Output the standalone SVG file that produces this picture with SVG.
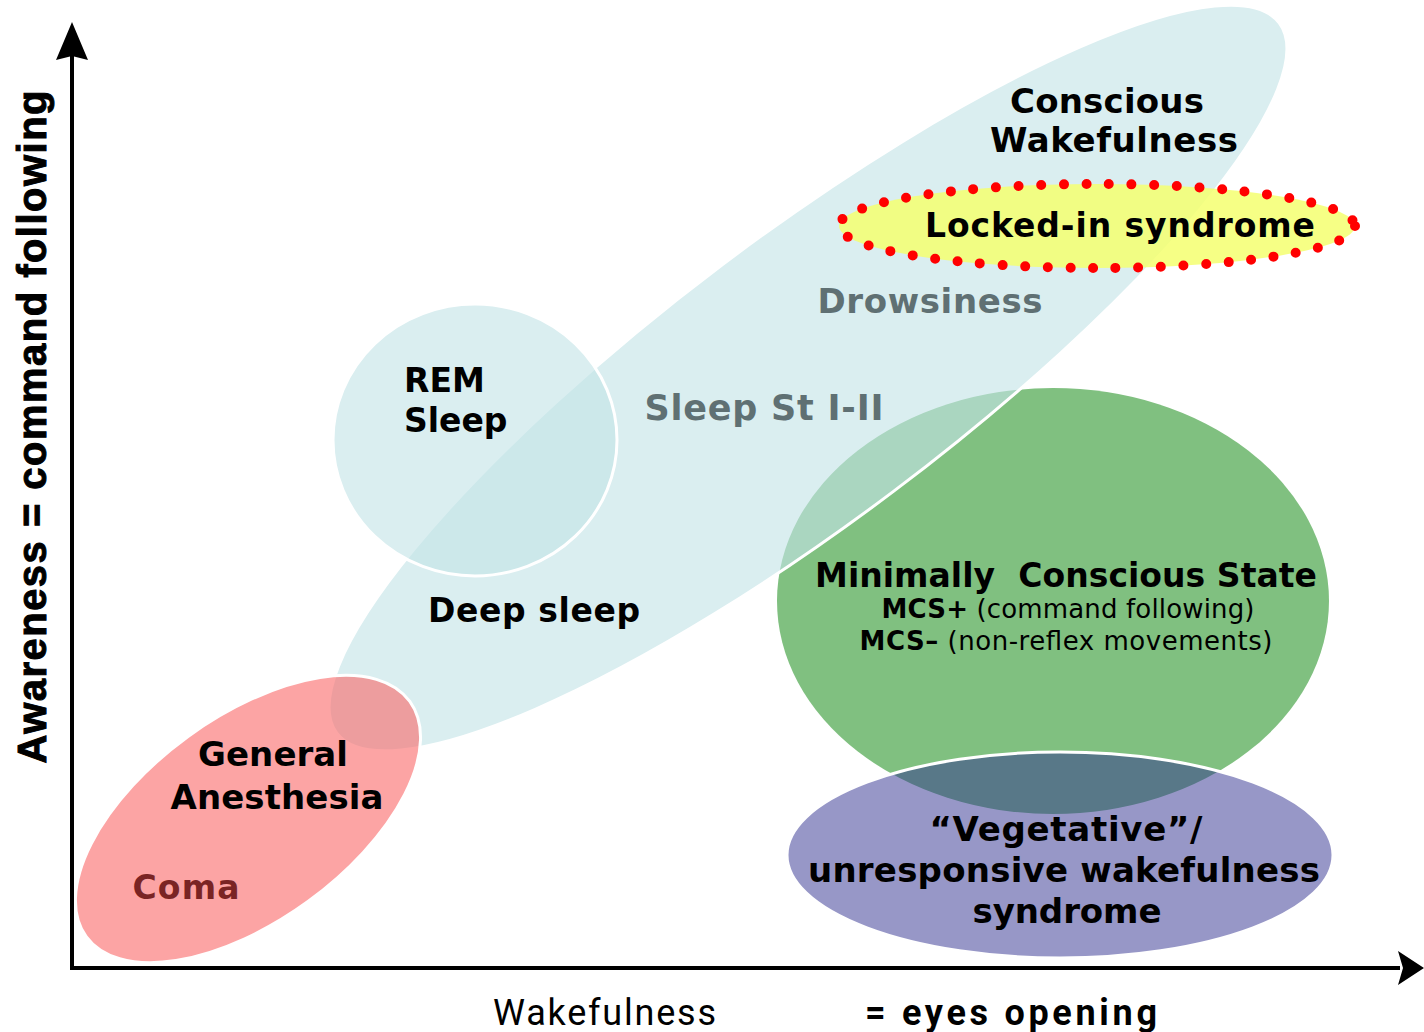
<svg xmlns="http://www.w3.org/2000/svg" width="1424" height="1032" viewBox="0 0 1424 1032">
<style>
.lbl{font-family:"DejaVu Sans","Verdana",sans-serif;font-weight:bold;fill:#000}
.gray{fill:#5f7073}
.sub{font-family:"DejaVu Sans","Verdana",sans-serif;font-size:26px;fill:#000}
</style>
<rect width="1424" height="1032" fill="#fff"/>
<g id="mcs">
<ellipse cx="1053" cy="601" rx="276" ry="213" fill="#80c080"/>
</g>
<g id="sleep">
<ellipse cx="808" cy="378" rx="590" ry="142" transform="rotate(-37 808 378)" fill="#c3e4e7" fill-opacity="0.62" stroke="#fff" stroke-width="3"/>
</g>
<g id="rem">
<ellipse cx="475" cy="440" rx="142" ry="136" fill="#c3e4e7" fill-opacity="0.62" stroke="#fff" stroke-width="3"/>
</g>
<g id="anesthesia">
<ellipse cx="248" cy="819" rx="200" ry="102" transform="rotate(-36 248 819)" fill="#fa6868" fill-opacity="0.6" stroke="#fff" stroke-width="3"/>
</g>
<g id="vs">
<ellipse cx="1060" cy="855" rx="273" ry="103" fill="#2f2f90" fill-opacity="0.5" stroke="#fff" stroke-width="3"/>
</g>
<g id="lis">
<ellipse cx="1097" cy="226" rx="258" ry="42" fill="#f5ff70" fill-opacity="0.85" stroke="#f00" stroke-width="10" stroke-linecap="round" stroke-dasharray="0 22.6"/>
</g>
<g id="connectors">
<line x1="72" y1="968" x2="72" y2="55" stroke="#000" stroke-width="4"/>
<polygon points="72,22 56,60 72,56 88,60" fill="#000"/>
<line x1="70" y1="968" x2="1400" y2="968" stroke="#000" stroke-width="4"/>
<polygon points="1424,968 1398,951 1403,968 1398,985" fill="#000"/>
</g>
<g id="texts">
<text class="lbl" font-size="34" x="1107" y="113" text-anchor="middle" textLength="194">Conscious</text>
<text class="lbl" font-size="34" x="1114" y="152" text-anchor="middle" textLength="248">Wakefulness</text>
<text class="lbl" font-size="33" x="1120" y="237" text-anchor="middle" textLength="390">Locked-in syndrome</text>
<text class="lbl gray" font-size="34" x="930" y="313" text-anchor="middle" textLength="225">Drowsiness</text>
<text class="lbl gray" font-size="35" x="764" y="420" text-anchor="middle" textLength="239">Sleep St I-II</text>
<text class="lbl" font-size="33" x="404" y="392">REM</text>
<text class="lbl" font-size="33" x="404" y="432">Sleep</text>
<text class="lbl" font-size="33" x="534" y="622" text-anchor="middle" textLength="212">Deep sleep</text>
<text class="lbl" font-size="33" x="1066" y="587" text-anchor="middle" textLength="502" xml:space="preserve">Minimally  Conscious State</text>
<text class="sub" x="1068" y="618" text-anchor="middle" textLength="373"><tspan font-weight="bold">MCS+</tspan> (command following)</text>
<text class="sub" x="1066" y="650" text-anchor="middle" textLength="413"><tspan font-weight="bold">MCS–</tspan> (non-reflex movements)</text>
<text class="lbl" font-size="34" x="1066" y="841" text-anchor="middle" textLength="273">“Vegetative”/</text>
<text class="lbl" font-size="34" x="1064" y="882" text-anchor="middle" textLength="512">unresponsive wakefulness</text>
<text class="lbl" font-size="34" x="1067" y="923" text-anchor="middle" textLength="189">syndrome</text>
<text class="lbl" font-size="34" x="273" y="766" text-anchor="middle" textLength="150">General</text>
<text class="lbl" font-size="34" x="277" y="809" text-anchor="middle" textLength="213">Anesthesia</text>
<text class="lbl" font-size="33" x="186" y="899" text-anchor="middle" textLength="107" style="fill:#7a2424">Coma</text>
<text font-family="'Liberation Sans',Arial,sans-serif" font-weight="bold" font-size="40" x="0" y="0" text-anchor="middle" textLength="673" stroke="#000" stroke-width="1" transform="translate(46 427) rotate(-90)">Awareness = command following</text>
<text font-family="'Liberation Sans Narrow','Roboto',sans-serif" font-size="36" x="493" y="1025" textLength="223">Wakefulness</text>
<text font-family="'Liberation Sans Narrow','Roboto',sans-serif" font-weight="bold" font-size="36" x="865" y="1025" textLength="292">= eyes opening</text>
</g>
</svg>
